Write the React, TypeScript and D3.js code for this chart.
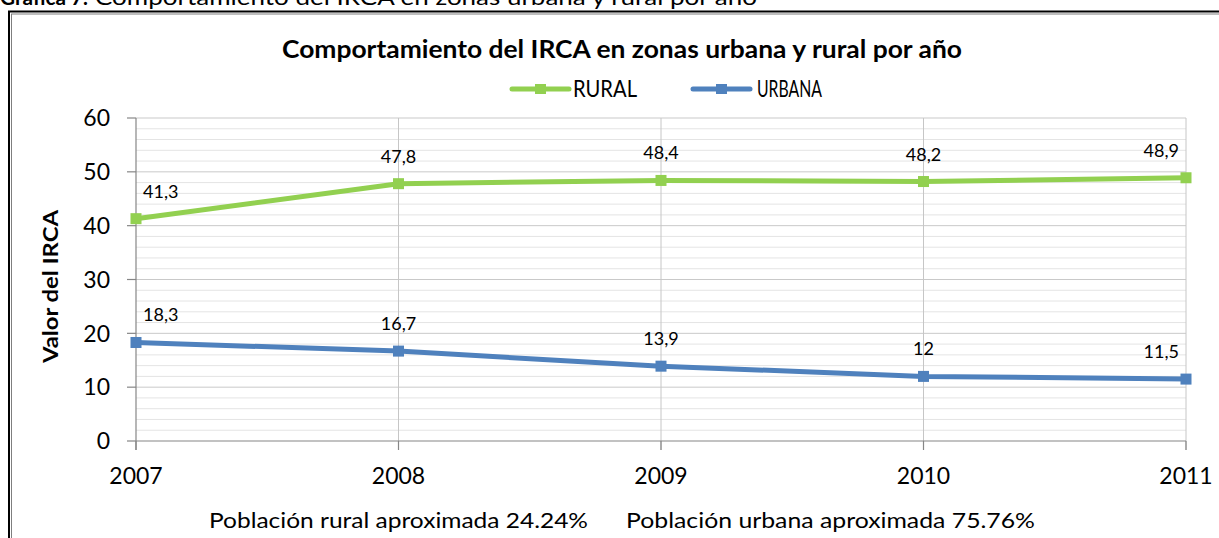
import * as d3 from "d3";

// values
const years = [2007, 2008, 2009, 2010, 2011];
const rural = [41.3, 47.8, 48.4, 48.2, 48.9];
const urbana = [18.3, 16.7, 13.9, 12, 11.5];
const yTicks = [0, 10, 20, 30, 40, 50, 60];
const seriesNames = ["RURAL", "URBANA"];
const footnotes = ["Población rural aproximada 24.24%", "Población urbana aproximada 75.76%"];

const W = 1219;
const H = 538;
const FONT = "Lato, 'Open Sans', sans-serif";
const GREEN = "#92d050";
const BLUE = "#4f81bd";

export default function App() {
  const x = d3.scaleLinear().domain([2007, 2011]).range([136, 1186]);
  const y = d3.scaleLinear().domain([0, 60]).range([441, 118]);

  const line = d3
    .line<number>()
    .x((_, i) => x(years[i]))
    .y((d) => y(d));

  const minor = d3.range(0, 61, 2).filter((v) => v % 10 !== 0);
  const fmt = (v: number) => String(v).replace(".", ",");

  const series = [
    { name: seriesNames[0], values: rural, color: GREEN },
    { name: seriesNames[1], values: urbana, color: BLUE },
  ];

  const legend = [
    { lineX: 512, textX: 573, width: 64 },
    { lineX: 693, textX: 757, width: 65 },
  ];

  return (
    <svg
      width={W}
      height={H}
      style={{ position: "absolute", left: 0, top: 0, background: "#fff" }}
      fontFamily={FONT}
    >
      {/* caption cut at the top of the page */}
      <text x={0} y={5} fontSize={21} fill="#000">
        <tspan fontWeight="bold" textLength={88} lengthAdjust="spacingAndGlyphs">
          Gráfica 7.
        </tspan>
        <tspan x={95} textLength={662} lengthAdjust="spacingAndGlyphs">
          Comportamiento del IRCA en zonas urbana y rural por año
        </tspan>
      </text>

      {/* outer frame */}
      <rect x={9} y={11.5} width={1240} height={560} fill="none" stroke="#000" strokeWidth={2} />
      <rect x={11.5} y={14} width={1235} height={555} fill="none" stroke="#7f7f7f" strokeWidth={1} />

      {/* title */}
      <text
        x={622}
        y={58}
        textAnchor="middle"
        fontSize={25}
        fontWeight="bold"
        textLength={680}
        lengthAdjust="spacingAndGlyphs"
      >
        Comportamiento del IRCA en zonas urbana y rural por año
      </text>

      {/* legend */}
      {series.map((s, i) => (
        <g key={s.name}>
          <line
            x1={legend[i].lineX}
            x2={legend[i].lineX + 57}
            y1={89}
            y2={89}
            stroke={s.color}
            strokeWidth={5}
            strokeLinecap="round"
          />
          <rect x={legend[i].lineX + 23} y={84} width={11} height={10} fill={s.color} />
          <text
            x={legend[i].textX}
            y={97}
            fontSize={23}
            textLength={legend[i].width}
            lengthAdjust="spacingAndGlyphs"
          >
            {s.name}
          </text>
        </g>
      ))}

      {/* grid */}
      {minor.map((v) => (
        <line key={"m" + v} x1={x(2007)} x2={x(2011)} y1={y(v)} y2={y(v)} stroke="#e4e4e4" strokeWidth={1} />
      ))}
      {yTicks.slice(1).map((v) => (
        <line key={"M" + v} x1={x(2007)} x2={x(2011)} y1={y(v)} y2={y(v)} stroke="#c9c9c9" strokeWidth={1} />
      ))}
      {years.slice(1).map((yr) => (
        <line key={"v" + yr} x1={x(yr)} x2={x(yr)} y1={y(60)} y2={y(0) + 9} stroke="#c6c6c6" strokeWidth={1} />
      ))}

      {/* axes */}
      <line x1={x(2007)} x2={x(2007)} y1={y(60)} y2={y(0) + 9} stroke="#868686" strokeWidth={1.2} />
      <line x1={x(2007)} x2={x(2011)} y1={y(0)} y2={y(0)} stroke="#868686" strokeWidth={1.2} />
      {yTicks.map((v) => (
        <g key={"t" + v}>
          <line x1={x(2007) - 9} x2={x(2007)} y1={y(v)} y2={y(v)} stroke="#868686" strokeWidth={1.2} />
          <text x={110} y={y(v)} dy="0.36em" textAnchor="end" fontSize={23}>
            {v}
          </text>
        </g>
      ))}
      {years.map((yr) => (
        <g key={"x" + yr}>
          <line x1={x(yr)} x2={x(yr)} y1={y(0)} y2={y(0) + 9} stroke="#868686" strokeWidth={1.2} />
          <text x={x(yr)} y={484} textAnchor="middle" fontSize={23}>
            {yr}
          </text>
        </g>
      ))}

      {/* axis title */}
      <text
        transform={`translate(51, ${(y(0) + y(60)) / 2 + 7}) rotate(-90)`}
        textAnchor="middle"
        dy="0.35em"
        fontSize={21}
        fontWeight="bold"
        textLength={153}
        lengthAdjust="spacingAndGlyphs"
      >
        Valor del IRCA
      </text>

      {/* series */}
      {series.map((s) => (
        <g key={s.name + "line"}>
          <path d={line(s.values) ?? ""} fill="none" stroke={s.color} strokeWidth={5} strokeLinejoin="round" />
          {s.values.map((v, i) => (
            <rect key={i} x={x(years[i]) - 5.5} y={y(v) - 5.5} width={11} height={11} fill={s.color} />
          ))}
          {s.values.map((v, i) => {
            const first = i === 0;
            const last = i === s.values.length - 1;
            return (
              <text
                key={"l" + i}
                x={x(years[i]) + (first ? 7 : last ? -7 : 0)}
                y={y(v) - 21}
                textAnchor={first ? "start" : last ? "end" : "middle"}
                fontSize={18}
                fill="#000"
              >
                {fmt(v)}
              </text>
            );
          })}
        </g>
      ))}

      {/* footnotes */}
      <text x={209} y={528} fontSize={22} textLength={379} lengthAdjust="spacingAndGlyphs">
        {footnotes[0]}
      </text>
      <text x={626} y={528} fontSize={22} textLength={409} lengthAdjust="spacingAndGlyphs">
        {footnotes[1]}
      </text>
    </svg>
  );
}
